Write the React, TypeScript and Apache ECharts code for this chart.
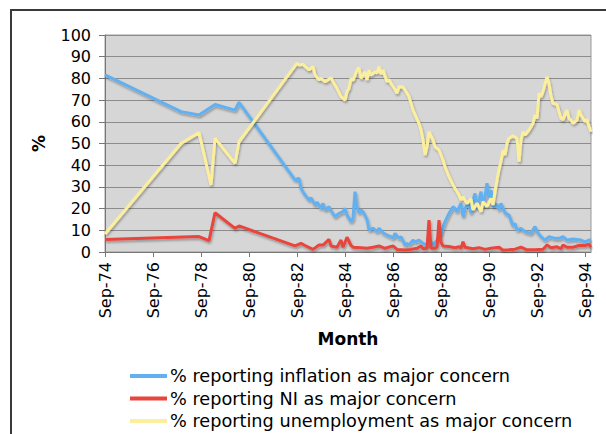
import React, { useEffect, useRef } from "react";
import * as echarts from "echarts";

// x positions are months after Sep-74
const inflationMonths = [0, 38, 47, 55, 65, 67, 95, 97, 98, 100, 102, 103, 105, 106, 108, 109, 110, 112, 113, 115, 117, 119, 120, 121, 123, 124, 125, 126, 127, 128, 129, 131, 132, 134, 136, 137, 139, 141, 143, 144, 145, 147, 148, 150, 151, 152, 154, 155, 157, 159, 161, 163, 164, 166, 168, 170, 172, 174, 175, 176, 178, 179, 180, 182, 183, 184, 185, 186, 188, 189, 190, 191, 192, 193, 194, 196, 197, 198, 200, 202, 204, 205, 206, 208, 210, 213, 215, 216, 218, 220, 222, 225, 227, 229, 231, 234, 236, 238, 240, 242, 243];
const inflationValues = [81.6, 64.7, 63.1, 68, 65.4, 69, 33.2, 34, 29.3, 26.3, 24, 25, 21.7, 23, 20.1, 22.4, 19.4, 20.9, 19, 16.3, 17.8, 18.6, 20.1, 17, 14, 15.5, 27.8, 20.9, 18, 19.4, 18.6, 15, 10.1, 11, 9.4, 10.9, 8.9, 7.8, 7.1, 6.3, 8.6, 6.3, 7.1, 3.2, 4, 3.2, 5.5, 4.7, 5.5, 4, 3.2, 4.7, 3.2, 5.5, 8.6, 14, 17.8, 20.9, 20, 18.6, 22.4, 16.3, 20, 23.2, 17.8, 24, 27, 20, 27.8, 20.9, 25.5, 31.7, 25, 28.5, 20.9, 22, 19.4, 22.4, 18, 17, 12, 13.2, 10.1, 10.9, 9.4, 8.6, 11.7, 9.4, 7.1, 5.5, 7.1, 6.3, 6.3, 7.1, 5.5, 6, 5.8, 5.5, 4.7, 5.5, 5.5];

const niMonths = [0, 47, 52, 55, 65, 67, 95, 98, 100, 104, 107, 109, 112, 113, 116, 118, 119, 120, 121, 123, 124, 128, 131, 134, 137, 140, 144, 146, 150, 153, 156, 158, 159, 161, 162, 163, 165, 166, 167, 168, 169, 172, 175, 177, 178, 179, 180, 184, 187, 190, 193, 197, 199, 202, 205, 208, 211, 215, 219, 221, 223, 226, 228, 229, 231, 234, 237, 240, 242, 243];
const niValues = [5.8, 7.1, 5.2, 18.1, 10.9, 12, 2.8, 4, 3, 1.2, 3.2, 3.2, 5.8, 2.8, 2.2, 5.5, 2.2, 4.5, 6.8, 3, 2.2, 2, 1.7, 2.2, 2.8, 1.7, 2.8, 1.2, 0.9, 1.2, 1.7, 2.8, 1.5, 1.7, 14.7, 1.7, 1.7, 2.2, 14.7, 4.5, 2.8, 2.5, 2, 2.4, 1.7, 4.7, 2.2, 1.5, 2, 1.2, 1.7, 2.2, 0.8, 1, 1.3, 2.2, 1, 1, 1.3, 3.2, 2, 2.4, 1.5, 3.2, 2.2, 2.2, 3, 3, 3.5, 2.2];

const unemploymentMonths = [0, 38, 47, 53, 55, 65, 67, 96, 97, 99, 102, 104, 105, 107, 108, 110, 113, 114, 116, 118, 120, 121, 122, 123, 124, 126, 127, 128, 130, 131, 132, 133, 135, 136, 137, 138, 139, 141, 142, 143, 145, 146, 147, 149, 150, 152, 154, 157, 158, 159, 160, 161, 162, 164, 165, 167, 169, 170, 172, 174, 177, 178, 179, 181, 183, 184, 186, 188, 189, 191, 193, 194, 195, 196, 197, 198, 199, 200, 201, 202, 204, 206, 207, 208, 209, 210, 212, 214, 215, 216, 217, 218, 219, 221, 222, 223, 224, 226, 227, 228, 229, 231, 232, 233, 234, 236, 237, 238, 240, 241, 242, 243];
const unemploymentValues = [8.3, 50, 55, 30.9, 52.4, 40.9, 50.8, 87, 86.2, 86.5, 83.9, 85.4, 81.6, 79.3, 80, 78.5, 80.3, 78.5, 75.4, 71.6, 70, 73.9, 75.5, 80, 79, 83.9, 84.9, 80, 83, 79.3, 83.9, 81.5, 83, 82.5, 85.4, 82, 83.9, 78.5, 79.5, 77.7, 75, 73.1, 76.2, 76, 74.7, 71.6, 65.4, 59.3, 56.2, 51.6, 44.7, 48.5, 55.4, 51.6, 48.5, 47, 42.4, 39.3, 34.7, 30.9, 26.3, 24, 25.5, 22.4, 24.5, 19.4, 22.5, 18.6, 23.2, 21, 24.7, 21.7, 27.8, 33.2, 38, 42, 47, 44.7, 50, 52.4, 53.5, 52.4, 41.6, 51.6, 55.4, 53.9, 56.2, 59.3, 63.1, 61.6, 73.1, 71.6, 74, 80.8, 77.7, 72, 68.5, 68, 64.7, 61.6, 61, 65.4, 61.6, 60.8, 59.3, 60.8, 65.4, 63.1, 60, 61, 58, 55.4];

const xTickMonths = [0, 24, 48, 72, 96, 120, 144, 168, 192, 216, 240];
const xTickLabels = ["Sep-74", "Sep-76", "Sep-78", "Sep-80", "Sep-82", "Sep-84", "Sep-86", "Sep-88", "Sep-90", "Sep-92", "Sep-94"];

const seriesNames = [
  "% reporting inflation as major concern",
  "% reporting NI as major concern",
  "% reporting unemployment as major concern",
];
const seriesColors = ["#62b0f0", "#e8453c", "#fcef9c"];

const FONT = "DejaVu Sans, Verdana, sans-serif";

function zip(xs: number[], ys: number[]) {
  return xs.map((x, i) => [x, ys[i]]);
}

export default function App() {
  const ref = useRef<HTMLDivElement>(null);
  useEffect(() => {
    if (!ref.current) return;
    const chart = echarts.init(ref.current, null, { renderer: "svg" });
    const lineSeries = (name: string, color: string, data: number[][]) => ({
      name,
      type: "line",
      data,
      symbol: "none",
      color,
      lineStyle: {
        width: 3,
        color,
        shadowColor: "rgba(0,0,0,0.3)",
        shadowBlur: 2,
        shadowOffsetX: 1,
        shadowOffsetY: 2,
      },
    });
    chart.setOption({
      animation: false,
      textStyle: { fontFamily: FONT },
      graphic: [
        {
          type: "rect",
          shape: { x: 11, y: 10, width: 640, height: 480 },
          style: { fill: "none", stroke: "#3a3a3a", lineWidth: 2 },
          silent: true,
        },
      ],
      grid: {
        left: 105,
        top: 35,
        right: 15,
        bottom: 182,
        show: true,
        backgroundColor: "#d6d6d6",
        borderColor: "#9a9a9a",
        borderWidth: 1,
      },
      xAxis: {
        type: "value",
        min: 0,
        max: 243,
        name: "Month",
        nameLocation: "middle",
        nameGap: 78,
        nameTextStyle: { fontFamily: FONT, fontSize: 17, fontWeight: "bold", color: "#000" },
        axisLine: { show: true, lineStyle: { color: "#777", width: 1 } },
        axisTick: { show: true, length: 5, lineStyle: { color: "#777" }, customValues: xTickMonths },
        axisLabel: {
          customValues: xTickMonths,
          rotate: 90,
          margin: 10,
          fontSize: 16,
          fontFamily: FONT,
          color: "#000",
          formatter: (v: number) => {
            const i = xTickMonths.indexOf(Math.round(v));
            return i >= 0 ? xTickLabels[i] : "";
          },
        },
        splitLine: { show: false },
      },
      yAxis: {
        type: "value",
        min: 0,
        max: 100,
        interval: 10,
        name: "%",
        nameLocation: "middle",
        nameGap: 58,
        nameRotate: 90,
        nameTextStyle: { fontFamily: FONT, fontSize: 17, fontWeight: "bold", color: "#000" },
        axisLine: { show: true, lineStyle: { color: "#777", width: 1 } },
        axisTick: { show: true, length: 6, lineStyle: { color: "#777" } },
        axisLabel: { fontSize: 16, fontFamily: FONT, color: "#000", margin: 14 },
        splitLine: { show: true, lineStyle: { color: "#8c8c8c", width: 1 } },
      },
      legend: {
        orient: "vertical",
        left: 130,
        top: 367,
        padding: 0,
        icon: "rect",
        itemWidth: 37,
        itemHeight: 4,
        itemGap: 4.5,
        textStyle: { fontFamily: FONT, fontSize: 17.7, color: "#000", lineHeight: 18, padding: [0, 0, 0, -2] },
        data: seriesNames,
      },
      series: [
        lineSeries(seriesNames[0], seriesColors[0], zip(inflationMonths, inflationValues)),
        lineSeries(seriesNames[1], seriesColors[1], zip(niMonths, niValues)),
        lineSeries(seriesNames[2], seriesColors[2], zip(unemploymentMonths, unemploymentValues)),
      ],
    });
    return () => chart.dispose();
  }, []);
  return (
    <div
      ref={ref}
      style={{ position: "absolute", left: 0, top: 0, width: 606, height: 434, background: "#fff" }}
    />
  );
}
